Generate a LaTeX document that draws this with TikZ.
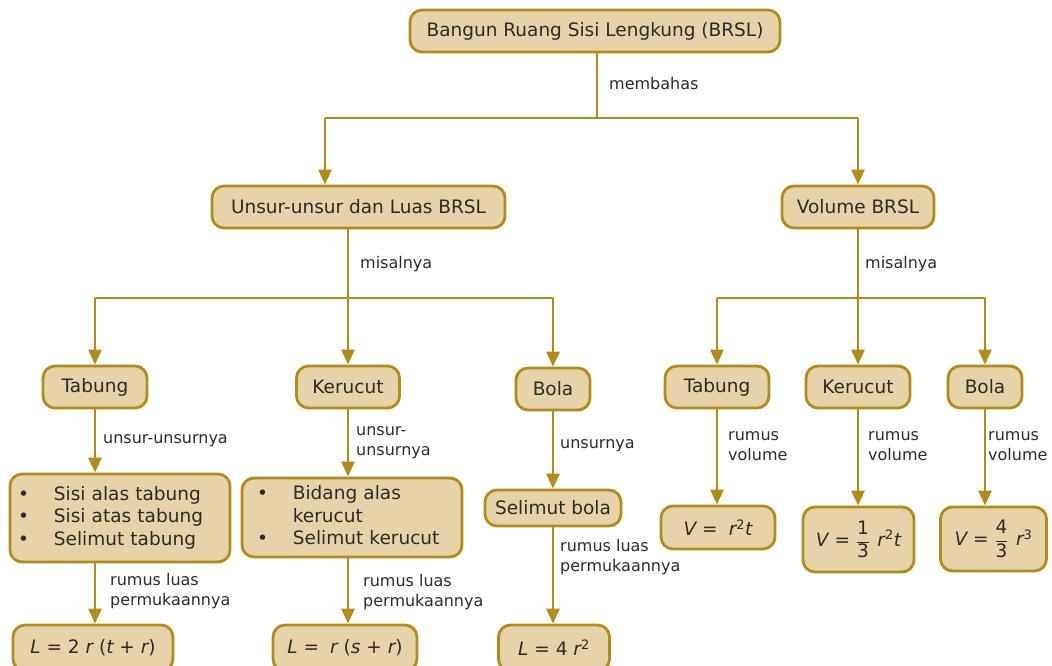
\documentclass[tikz,border=0pt]{standalone}
\usepackage{fontspec}
\setmainfont{DejaVu Sans}
\usetikzlibrary{arrows.meta}
\definecolor{brd}{HTML}{B38B16}
\definecolor{fil}{HTML}{E6D3A9}
\definecolor{txt}{HTML}{2B2B2B}
\tikzset{
 box/.style={draw=brd, fill=fil, line width=2.8pt, rounded corners=12pt, inner sep=0pt, text=txt, font=\fontsize{18.5}{22.5}\selectfont},
 listbox/.style={box, align=left},
 ln/.style={draw=brd, line width=2.8pt},
 arr/.style={ln, -{Triangle[length=15pt,width=13pt]}},
 lbl/.style={anchor=west, text=txt, font=\fontsize{16}{20}\selectfont, align=left, inner sep=0pt},
}
\newcommand{\iv}[1]{{\itshape #1}}
\newcommand{\fr}[2]{$\displaystyle\frac{\mbox{#1}}{\mbox{#2}}$}
\begin{document}
\begin{tikzpicture}[x=1pt,y=-1pt]
\useasboundingbox (0,0) rectangle (1052,666);
\clip (0,0) rectangle (1052,666);
% nodes
\node[box, minimum width=370pt, minimum height=42pt] (top) at (595,31) {Bangun Ruang Sisi Lengkung (BRSL)};
\node[box, minimum width=293pt, minimum height=42pt] (unsur) at (358.5,207) {Unsur-unsur dan Luas BRSL};
\node[box, minimum width=152pt, minimum height=42pt] (vol) at (858,207) {Volume BRSL};
\node[box, minimum width=104pt, minimum height=42pt] (tabL) at (95,387) {Tabung};
\node[box, minimum width=103pt, minimum height=42pt] (kerL) at (348,387) {Kerucut};
\node[box, minimum width=74pt, minimum height=42pt] (bolaL) at (553,389) {Bola};
\node[box, minimum width=104pt, minimum height=42pt] (tabR) at (717,387) {Tabung};
\node[box, minimum width=104pt, minimum height=42pt] (kerR) at (858,387) {Kerucut};
\node[box, minimum width=74pt, minimum height=42pt] (bolaR) at (985,387) {Bola};
\node[listbox, minimum width=220pt, minimum height=88pt, text width=204pt] (listT) at (120,518) {%
 \begin{tabular}{@{}l@{\hspace{25pt}}l@{}}\textbullet & Sisi alas tabung\\ \textbullet & Sisi atas tabung\\ \textbullet & Selimut tabung\end{tabular}};
\node[listbox, minimum width=220pt, minimum height=79pt, text width=190pt] (listK) at (352,517.5) {%
 \begin{tabular}{@{}l@{\hspace{25pt}}l@{}}\textbullet & Bidang alas\\ & kerucut\\ \textbullet & Selimut kerucut\end{tabular}};
\node[box, minimum width=136pt, minimum height=36pt] (selB) at (553,508) {Selimut bola};
\node[box, minimum width=160pt, minimum height=46pt] (LT) at (93,648) {\iv{L} = 2 \iv{r} (\iv{t} + \iv{r})};
\node[box, minimum width=144pt, minimum height=46pt] (LK) at (345,648) {\iv{L} =\hspace{0.6em}\iv{r} (\iv{s} + \iv{r})};
\node[box, minimum width=111pt, minimum height=46pt] (LB) at (554,648) {\iv{L} = 4 \iv{r}\textsuperscript{2}};
\node[box, minimum width=114pt, minimum height=43pt] (VT) at (718,527.5) {\iv{V} =\hspace{0.6em}\iv{r}\textsuperscript{2}\iv{t}};
\node[box, minimum width=111pt, minimum height=65pt] (VK) at (858.5,539.5) {\iv{V} = \fr{1}{3}\hspace{0.4em}\iv{r}\textsuperscript{2}\iv{t}};
\node[box, minimum width=106pt, minimum height=64pt] (VB) at (993.5,539) {\iv{V} = \fr{4}{3}\hspace{0.4em}\iv{r}\textsuperscript{3}};
% junctions
\coordinate (m1) at (597,118);
\coordinate (m1l) at (325,118);
\coordinate (m1r) at (858,118);
\coordinate (m2) at (348,298);
\coordinate (m2l) at (95,298);
\coordinate (m2r) at (553,298);
\coordinate (m3) at (858,298);
\coordinate (m3l) at (717,298);
\coordinate (m3r) at (985,298);
% connectors
\draw[ln] (top.south -| m1) -- (m1);
\draw[ln] (m1l) -- (m1r);
\draw[arr] (m1l) -- (unsur.north -| m1l);
\draw[arr] (m1r) -- (vol.north -| m1r);
\draw[ln] (unsur.south -| m2) -- (m2);
\draw[ln] (m2l) -- (m2r);
\draw[arr] (m2l) -- (tabL.north);
\draw[arr] (m2) -- (kerL.north);
\draw[arr] (m2r) -- (bolaL.north);
\draw[ln] (vol.south) -- (m3);
\draw[ln] (m3l) -- (m3r);
\draw[arr] (m3l) -- (tabR.north);
\draw[arr] (m3) -- (kerR.north);
\draw[arr] (m3r) -- (bolaR.north);
\draw[arr] (tabL.south) -- (listT.north -| tabL.south);
\draw[arr] (kerL.south) -- (listK.north -| kerL.south);
\draw[arr] (bolaL.south) -- (selB.north);
\draw[arr] (listT.south -| tabL.south) -- (LT.north -| tabL.south);
\draw[arr] (listK.south -| kerL.south) -- (LK.north -| kerL.south);
\draw[arr] (selB.south) -- (LB.north -| selB.south);
\draw[arr] (tabR.south) -- (VT.north -| tabR.south);
\draw[arr] (kerR.south) -- (VK.north -| kerR.south);
\draw[arr] (bolaR.south) -- (VB.north -| bolaR.south);
% labels
\node[lbl] (l1) at (609,84) {membahas};
\node[lbl] (l2) at (360,264) {misalnya};
\node[lbl] (l3) at (865,264) {misalnya};
\node[lbl] (l4) at (103,441) {unsur-unsurnya};
\node[lbl] (l5) at (356,443) {unsur-\\unsurnya};
\node[lbl] (l6) at (560,446) {unsurnya};
\node[lbl] (l7) at (728,446) {rumus\\volume};
\node[lbl] (l8) at (868,446) {rumus\\volume};
\node[lbl] (l9) at (988,446) {rumus\\volume};
\node[lbl] (l10) at (110,591) {rumus luas\\permukaannya};
\node[lbl] (l11) at (363,592) {rumus luas\\permukaannya};
\node[lbl] (l12) at (560,557) {rumus luas\\permukaannya};
\end{tikzpicture}
\end{document}
